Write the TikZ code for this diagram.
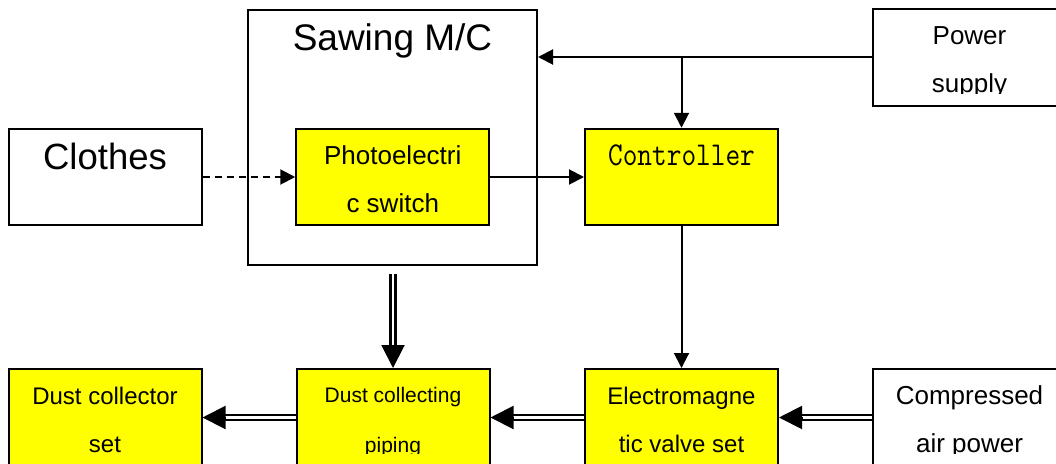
\documentclass[tikz,border=0pt]{standalone}
\usepackage{fontspec}
\setmainfont{Liberation Sans}
\usetikzlibrary{arrows.meta,calc}
\definecolor{boxyellow}{RGB}{255,255,0}
\begin{document}
\begin{tikzpicture}[x=1pt,y=-1pt,
  box/.style={draw=black, line width=2pt, rectangle, minimum width=193pt, minimum height=97pt, inner sep=0pt},
  ybox/.style={box, fill=boxyellow},
  wbox/.style={box, fill=white},
  lbl/.style={anchor=base, inner sep=0pt, font=\fontsize{#1}{#1}\selectfont},
  arr/.style={line width=2pt, -{Triangle[length=15pt,width=15pt]}},
  dashedarr/.style={arr, dash pattern=on 7pt off 5pt},
  dbl/.style={line width=2.3pt, double=white, double distance=2.6pt},
  bigtip/.style={line width=2pt, -{Triangle[length=23pt,width=23pt]}},
]
\useasboundingbox (0,0) rectangle (1056,463);
\fill[white] (0,0) rectangle (1056,463);

% boxes
\node[wbox, minimum width=289pt, minimum height=255.5pt] (saw) at (392.5,137.5) {};
\node[wbox] (power) at (969.5,57) {};
\node[wbox, minimum height=96.5pt] (clothes) at (105,177) {};
\node[ybox, minimum height=96.5pt] (photo) at (392.75,177) {};
\node[ybox, minimum height=96.5pt] (ctrl) at (681.5,177) {};
\node[ybox] (coll) at (105,417.5) {};
\node[ybox] (pipe) at (393,417.5) {};
\node[ybox] (valve) at (681.5,417.5) {};
\node[wbox] (air) at (969.5,417.5) {};

% texts
\node[lbl=37] (tsaw) at ($(saw.north)+(0,41.5)$) {Sawing M/C};
\node[lbl=36.5] (tclothes) at ($(clothes.north)+(0,41.5)$) {Clothes};
\node[lbl=26] (tphoto1) at ($(photo.north)+(0,36.5)$) {Photoelectri};
\node[lbl=26] (tphoto2) at ($(photo.north)+(0,85)$) {c switch};
\node[anchor=base, inner sep=0pt] (tctrl) at ($(ctrl.north)+(0,37.5)$) {\scalebox{1}[1.17]{\fontsize{28.5}{28.5}\ttfamily Controller}};
\begin{scope}
  \clip (power.north west) rectangle ($(power.north east)+(0,86)$);
  \node[lbl=26] (tpow1) at ($(power.north)+(0,36.7)$) {Power};
  \node[lbl=26] (tpow2) at ($(power.north)+(0,84.7)$) {supply};
\end{scope}
\begin{scope}
  \clip (coll.north west) rectangle ($(air.north east)+(0,85)$);
  \node[lbl=24] (tcoll1) at ($(coll.north)+(0,36)$) {Dust collector};
  \node[lbl=24] (tcoll2) at ($(coll.north)+(0,84)$) {set};
  \node[lbl=21] (tpipe1) at ($(pipe.north)+(0,34.5)$) {Dust collecting};
  \node[lbl=21] (tpipe2) at ($(pipe.north)+(0,84)$) {piping};
  \node[lbl=24] (tvalve1) at ($(valve.north)+(0,36)$) {Electromagne};
  \node[lbl=24] (tvalve2) at ($(valve.north)+(0,84)$) {tic valve set};
  \node[lbl=26] (tair1) at ($(air.north)+(0,36.5)$) {Compressed};
  \node[lbl=26] (tair2) at ($(air.north)+(0,84.5)$) {air power};
\end{scope}

% single arrows
\coordinate (pj) at (ctrl.north |- power.west);
\draw[arr] (power.west) -- (power.west -| saw.east);
\draw[arr] (pj) -- (ctrl.north);
\draw[dashedarr] (clothes.east) -- (photo.west);
\draw[arr] (photo.east) -- (ctrl.west);
\draw[arr] (ctrl.south) -- (valve.north);

% double arrows
\coordinate (sawout) at ($(saw.south -| pipe.north)+(0,8)$);
\coordinate (pipeA) at ($(pipe.north)+(0,-21)$);
\coordinate (pipeB) at ($(pipe.north)+(0,-23)$);
\draw[dbl] (sawout) -- (pipeA);
\draw[bigtip] (pipeB) -- (pipe.north);

\coordinate (valveA) at ($(valve.east)+(21,0)$);
\coordinate (valveB) at ($(valve.east)+(23,0)$);
\draw[dbl] (air.west) -- (valveA);
\draw[bigtip] (valveB) -- (valve.east);

\coordinate (pipeEA) at ($(pipe.east)+(21,0)$);
\coordinate (pipeEB) at ($(pipe.east)+(23,0)$);
\draw[dbl] (valve.west) -- (pipeEA);
\draw[bigtip] (pipeEB) -- (pipe.east);

\coordinate (collA) at ($(coll.east)+(21,0)$);
\coordinate (collB) at ($(coll.east)+(23,0)$);
\draw[dbl] (pipe.west) -- (collA);
\draw[bigtip] (collB) -- (coll.east);
\end{tikzpicture}
\end{document}
